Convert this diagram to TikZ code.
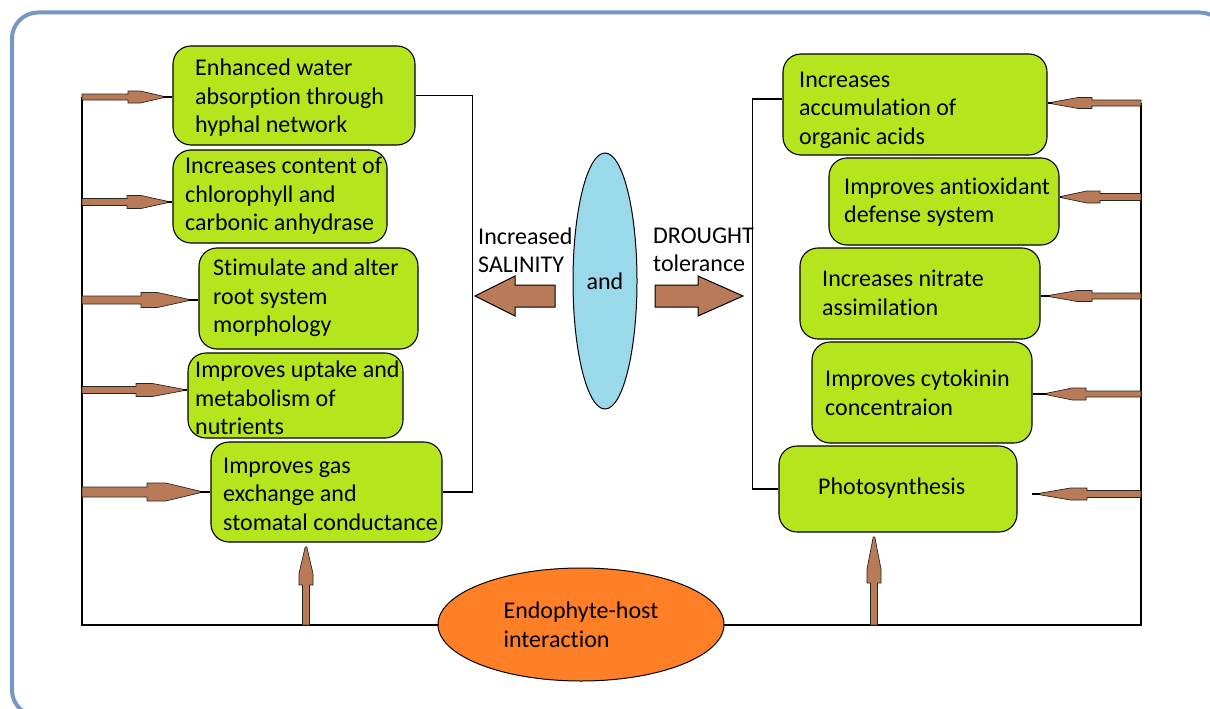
\documentclass[tikz,border=0pt]{standalone}
\usepackage{fontspec}
\setmainfont{Carlito}[Ligatures=NoCommon]
\usetikzlibrary{calc,shapes.geometric}
\definecolor{boxgreen}{RGB}{181,230,29}
\definecolor{arrowbrown}{RGB}{185,122,87}
\definecolor{endocol}{RGB}{255,127,39}
\definecolor{lenscol}{RGB}{153,217,234}
\definecolor{framecol}{RGB}{118,150,200}
\newcommand{\hbrarrow}[6]{% x0, xh, xt, y, s, h
  \pgfmathsetmacro{\xf}{#2+0.35*(#3-#2)}%
  \filldraw[brarrow] (#1,#4-#5) -- (#2,#4-#5) -- (#2,#4-#6) -- (\xf,#4-#6) -- (#3,#4-0.8) -- (#3,#4+0.8) -- (\xf,#4+#6) -- (#2,#4+#6) -- (#2,#4+#5) -- (#1,#4+#5) -- cycle;}
\newcommand{\vbrarrow}[6]{% x, y0, yh, yt, s, h
  \pgfmathsetmacro{\yf}{#3+0.3*(#4-#3)}%
  \filldraw[brarrow] (#1-#5,#2) -- (#1-#5,#3) -- (#1-#6,#3) -- (#1-#6,\yf) -- (#1-0.8,#4) -- (#1+0.8,#4) -- (#1+#6,\yf) -- (#1+#6,#3) -- (#1+#5,#3) -- (#1+#5,#2) -- cycle;}
\begin{document}
\begin{tikzpicture}[x=1pt,y=-1pt,
  greenbox/.style={draw=black, line width=1.1pt, fill=boxgreen, rounded corners=18pt, inner sep=0pt},
  txt/.style={font=\fontsize{24}{28.5}\selectfont, align=left, inner sep=0pt, anchor=west, text=black},
  conn/.style={draw=black, line width=1.2pt},
  brarrow/.style={fill=arrowbrown, draw=black!85, line width=0.7pt},
  bigarrow/.style={fill=arrowbrown, draw=black, line width=1pt},
  oval/.style={ellipse, draw=black, line width=1pt, inner sep=0pt}]
\useasboundingbox (0,0) rectangle (1210,709);
\draw[framecol, line width=4pt, rounded corners=26pt] (12,12.5) rectangle (1226,716);

% main frame lines
\coordinate (lt) at (82,97);
\coordinate (lb) at (82,625);
\coordinate (rb) at (1141,625);
\coordinate (rt) at (1141,103);
\draw[conn] (lt) -- (lb) -- (rb) -- (rt);

% left boxes
\node[greenbox, minimum width=242, minimum height=99] (L1) at (294,95.5) {};
\node[greenbox, minimum width=214, minimum height=93] (L2) at (280,196.5) {};
\node[greenbox, minimum width=219, minimum height=101] (L3) at (308.5,298.5) {};
\node[greenbox, minimum width=215, minimum height=85] (L4) at (295.5,395.5) {};
\node[greenbox, minimum width=231, minimum height=100] (L5) at (326.5,492) {};
\node[txt] (tL1) at (195,98) {Enhanced water\\absorption through\\hyphal network};
\node[txt] (tL2) at (185,196) {Increases content of\\chlorophyll and\\carbonic anhydrase};
\node[txt] (tL3) at (213,298) {Stimulate and alter\\root system\\morphology};
\node[txt] (tL4) at (195,398) {Improves uptake and\\metabolism of\\nutrients};
\node[txt] (tL5) at (223,494) {Improves gas\\exchange and\\stomatal conductance};

% right boxes
\node[greenbox, minimum width=264, minimum height=101] (R1) at (915,104.5) {};
\node[greenbox, minimum width=230, minimum height=87] (R2) at (944,201.5) {};
\node[greenbox, minimum width=240, minimum height=91] (R3) at (920,293.5) {};
\node[greenbox, minimum width=220, minimum height=101] (R4) at (922,392.5) {};
\node[greenbox, minimum width=238, minimum height=86] (R5) at (898,489) {};
\node[txt] (tR1) at (799,110) {Increases\\accumulation of\\organic acids};
\node[txt] (tR2) at (844,202) {Improves antioxidant\\defense system};
\node[txt] (tR3) at (822,293) {Increases nitrate\\assimilation};
\node[txt] (tR4) at (825,393) {Improves cytokinin\\concentraion};
\node[txt] (tR5) at (818,488) {Photosynthesis};

% brackets
\draw[conn] (L1.east) -- ++(57,0) |- (L5.east);
\draw[conn] ([yshift=5.5pt]R1.west) -- ++(-30,0) |- (R5.west);

% left arrows
\hbrarrow{82}{128}{163}{97}{3}{6}
\hbrarrow{82}{127}{167}{202}{3.5}{6.5}
\hbrarrow{82}{141}{188}{300}{4}{7.5}
\hbrarrow{82}{136}{183}{390}{3.5}{6.5}
\hbrarrow{82}{147}{200}{492}{5}{9}
\coordinate (aL1) at (163,97);
\coordinate (aL2) at (167,202);
\coordinate (aL3) at (188,300);
\coordinate (aL4) at (183,390);
\coordinate (aL5) at (200,492);
\draw[conn] (aL1) -- (aL1 -| L1.west);
\draw[conn] (aL2) -- (aL2 -| L2.west);
\draw[conn] (aL3) -- (aL3 -| L3.west);
\draw[conn] (aL4) -- (aL4 -| L4.west);
\draw[conn] (aL5) -- (aL5 -| L5.west);

% right arrows
\hbrarrow{1141}{1092}{1052}{103}{3}{5.5}
\hbrarrow{1141}{1100}{1062}{197}{3.5}{6}
\hbrarrow{1141}{1092}{1050}{296}{3}{5.5}
\hbrarrow{1141}{1086}{1047}{394}{3}{6}
\hbrarrow{1141}{1087}{1040}{494}{3.5}{6}
\coordinate (aR1) at (1052,103);
\coordinate (aR2) at (1062,197);
\coordinate (aR3) at (1050,296);
\coordinate (aR4) at (1047,394);
\coordinate (aR5) at (1040,494);
\coordinate (eR5) at (1032,494);
\draw[conn] (aR1) -- (aR1 -| R1.east);
\draw[conn] (aR2) -- (aR2 -| R2.east);
\draw[conn] (aR3) -- (aR3 -| R3.east);
\draw[conn] (aR4) -- (aR4 -| R4.east);
\draw[conn] (aR5) -- (eR5);

% vertical arrows
\vbrarrow{306}{625}{585}{547}{3.5}{7}
\vbrarrow{874}{625}{583}{537}{3.5}{7}

% centre
\node[oval, fill=lenscol, minimum width=64, minimum height=256, font=\fontsize{24}{28.5}\selectfont] (lens) at (605,281) {and};
\filldraw[bigarrow] (555,285) -- (515,285) -- (515,276) -- (475,296) -- (515,316) -- (515,307) -- (555,307) -- cycle;
\filldraw[bigarrow] (655,285) -- (698,285) -- (698,276) -- (743,296) -- (698,316) -- (698,307) -- (655,307) -- cycle;
\node[txt] (sal) at (478,250) {Increased\\SALINITY};
\node[txt] (dro) at (653,250) {DROUGHT\\tolerance};

% endophyte
\node[oval, fill=endocol, minimum width=286, minimum height=113, align=left, font=\fontsize{24}{28.5}\selectfont] (endo) at (581,624.5) {Endophyte-host\\interaction};
\end{tikzpicture}
\end{document}
